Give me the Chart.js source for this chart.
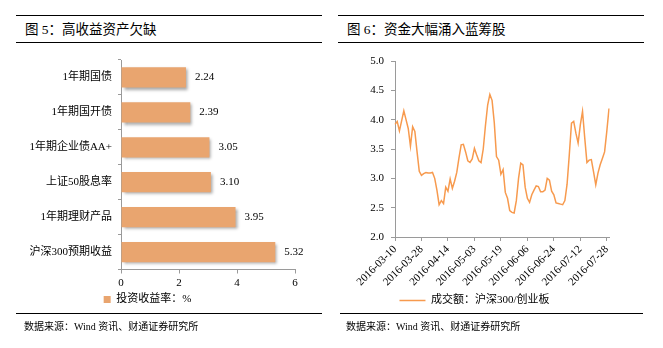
<!DOCTYPE html>
<html>
<head>
<meta charset="utf-8">
<script src="https://cdn.jsdelivr.net/npm/chart.js@4.4.0/dist/chart.umd.min.js"></script>
<style>
    body { margin: 0; background: #fff; width: 663px; height: 348px; position: relative; overflow: hidden;
           font-family: "Liberation Serif", "Noto Sans CJK SC", serif; color: #000; }
    .rule { position: absolute; height: 0; border-top: 1.5px solid #000; }
    .title { position: absolute; top: 21px; font-size: 13.5px; line-height: 18px; white-space: nowrap; }
    .src { position: absolute; top: 320px; font-size: 10px; line-height: 14px; white-space: nowrap; }
    .box { position: absolute; }
</style>
</head>
<body>
<!-- 左侧：图5 -->
<div class="rule" style="left:16px;width:306px;top:15px"></div>
<div class="title" style="left:25px">图 5：高收益资产欠缺</div>
<div class="rule" style="left:16px;width:306px;top:42px"></div>
<div class="box" style="left:0;top:45px;width:331px;height:270px"><canvas id="bar-chart"></canvas></div>
<div class="rule" style="left:16px;width:306px;top:313px"></div>
<div class="src" style="left:24px">数据来源：Wind 资讯、财通证券研究所</div>

<!-- 右侧：图6 -->
<div class="rule" style="left:338px;width:306px;top:15px"></div>
<div class="title" style="left:347px">图 6：资金大幅涌入蓝筹股</div>
<div class="rule" style="left:338px;width:306px;top:42px"></div>
<div class="box" style="left:340px;top:45px;width:303px;height:271px"><canvas id="line-chart"></canvas></div>
<div class="rule" style="left:340px;width:303px;top:313px"></div>
<div class="src" style="left:346px">数据来源：Wind 资讯、财通证券研究所</div>

<script>
// 图5 数据
const assetNames = ['1年期国债', '1年期国开债', '1年期企业债AA+', '上证50股息率', '1年期理财产品', '沪深300预期收益'];
const assetYields = [2.24, 2.39, 3.05, 3.10, 3.95, 5.32];
const yieldTicks = [0, 2, 4, 6];

// 图6 数据（交易日）
const tradeDates = [
    '2016-03-10', '2016-03-11', '2016-03-14', '2016-03-15', '2016-03-16', '2016-03-17', '2016-03-18',
    '2016-03-21', '2016-03-22', '2016-03-23', '2016-03-24', '2016-03-25', '2016-03-28', '2016-03-29',
    '2016-03-30', '2016-03-31', '2016-04-01', '2016-04-05', '2016-04-06', '2016-04-07', '2016-04-08',
    '2016-04-11', '2016-04-12', '2016-04-13', '2016-04-14', '2016-04-15', '2016-04-18', '2016-04-19',
    '2016-04-20', '2016-04-21', '2016-04-22', '2016-04-25', '2016-04-26', '2016-04-27', '2016-04-28',
    '2016-04-29', '2016-05-03', '2016-05-04', '2016-05-05', '2016-05-06', '2016-05-09', '2016-05-10',
    '2016-05-11', '2016-05-12', '2016-05-13', '2016-05-16', '2016-05-17', '2016-05-18', '2016-05-19',
    '2016-05-20', '2016-05-23', '2016-05-24', '2016-05-25', '2016-05-26', '2016-05-27', '2016-05-30',
    '2016-05-31', '2016-06-01', '2016-06-02', '2016-06-03', '2016-06-06', '2016-06-07', '2016-06-08',
    '2016-06-13', '2016-06-14', '2016-06-15', '2016-06-16', '2016-06-17', '2016-06-20', '2016-06-21',
    '2016-06-22', '2016-06-23', '2016-06-24', '2016-06-27', '2016-06-28', '2016-06-29', '2016-06-30',
    '2016-07-01', '2016-07-04', '2016-07-05', '2016-07-06', '2016-07-07', '2016-07-08', '2016-07-11',
    '2016-07-12', '2016-07-13', '2016-07-14', '2016-07-15', '2016-07-18', '2016-07-19', '2016-07-20',
    '2016-07-21', '2016-07-22', '2016-07-25', '2016-07-26', '2016-07-27', '2016-07-28', '2016-07-29'
];
const turnoverRatio = [
    3.92, 3.97, 3.81, 3.98, 4.15, 4.00, 3.85, 3.55, 3.88, 3.80,
    3.45, 3.12, 3.05, 3.08, 3.10, 3.09, 3.09, 3.10, 3.00, 2.80,
    2.55, 2.62, 2.57, 2.85, 2.78, 2.99, 2.83, 2.95, 3.10, 3.35,
    3.57, 3.58, 3.45, 3.30, 3.27, 3.33, 3.51, 3.40, 3.30, 3.27,
    3.50, 3.90, 4.25, 4.43, 4.33, 3.95, 3.37, 3.31, 3.07, 3.15,
    2.76, 2.66, 2.45, 2.42, 2.41, 2.62, 3.00, 3.26, 3.23, 2.85,
    2.66, 2.59, 2.72, 2.80, 2.87, 2.86, 2.77, 2.77, 2.80, 3.00,
    2.97, 2.78, 2.72, 2.58, 2.57, 2.56, 2.55, 2.62, 2.90, 3.40,
    3.94, 3.97, 3.77, 3.60, 3.91, 4.14, 3.69, 3.27, 3.31, 3.32,
    3.11, 2.89, 3.09, 3.23, 3.34, 3.45, 3.80, 4.19
];
const labelEvery = 12;

const tickFont = { family: '"Liberation Serif", "Noto Sans CJK SC", serif', size: 11 };
const axisGray = '#9a9a9a';

// 柱子阴影
const barShadow = {
    id: 'barShadow',
    beforeDatasetsDraw(chart) {
        const ctx = chart.ctx;
        ctx.save();
        ctx.shadowColor = 'rgba(0, 0, 0, 0.35)';
        ctx.shadowOffsetX = 2;
        ctx.shadowOffsetY = 2;
        ctx.shadowBlur = 3;
    },
    afterDatasetsDraw(chart) {
        chart.ctx.restore();
    }
};

// 柱子数值标签
const barValues = {
    id: 'barValues',
    afterDatasetsDraw(chart) {
        const ctx = chart.ctx;
        const meta = chart.getDatasetMeta(0);
        ctx.save();
        ctx.font = '11px "Liberation Serif", serif';
        ctx.fillStyle = '#000';
        ctx.textAlign = 'left';
        ctx.textBaseline = 'middle';
        meta.data.forEach((bar, i) => {
            ctx.fillText(assetYields[i].toFixed(2), bar.x + 9, bar.y);
        });
        ctx.restore();
    }
};

new Chart(document.getElementById('bar-chart'), {
    type: 'bar',
    data: {
        labels: assetNames,
        datasets: [{
            label: '投资收益率：%',
            data: assetYields,
            backgroundColor: '#E9A56F',
            borderWidth: 0,
            barPercentage: 0.58,
            categoryPercentage: 1.0
        }]
    },
    options: {
        indexAxis: 'y',
        responsive: true,
        maintainAspectRatio: false,
        animation: false,
        layout: { padding: { top: 15, right: 36, left: 0, bottom: 0 } },
        plugins: {
            legend: {
                position: 'bottom',
                labels: { boxWidth: 7, boxHeight: 7, padding: 6, color: '#000', font: tickFont }
            },
            tooltip: { enabled: false }
        },
        scales: {
            x: {
                min: yieldTicks[0],
                max: yieldTicks[yieldTicks.length - 1],
                afterBuildTicks: s => { s.ticks = yieldTicks.map(v => ({ value: v })); },
                afterFit: s => { s.height = 18.5; },
                grid: { drawOnChartArea: false, tickLength: 4, color: axisGray },
                border: { color: axisGray },
                ticks: { padding: 3, color: '#000', font: tickFont }
            },
            y: {
                afterFit: s => { s.width = 121; },
                grid: { drawOnChartArea: false, tickLength: 3, color: axisGray, offset: true },
                border: { color: axisGray },
                ticks: { padding: 6, color: '#000', font: tickFont }
            }
        }
    },
    plugins: [barShadow, barValues]
});

new Chart(document.getElementById('line-chart'), {
    type: 'line',
    data: {
        labels: tradeDates,
        datasets: [{
            label: '成交额：沪深300/创业板',
            data: turnoverRatio,
            borderColor: '#F79A4E',
            backgroundColor: '#F79A4E',
            borderWidth: 1.5,
            pointRadius: 0,
            tension: 0,
            fill: false
        }]
    },
    options: {
        responsive: true,
        maintainAspectRatio: false,
        animation: false,
        layout: { padding: { top: 16, right: 34, left: 0, bottom: 0 } },
        plugins: {
            legend: {
                position: 'bottom',
                labels: {
                    usePointStyle: true, pointStyle: 'line', pointStyleWidth: 26,
                    padding: 6, color: '#000', font: tickFont
                }
            },
            tooltip: { enabled: false }
        },
        scales: {
            x: {
                afterFit: s => { s.height = 52; },
                grid: { drawOnChartArea: false, tickLength: 4, color: axisGray },
                border: { color: axisGray },
                ticks: {
                    autoSkip: false, minRotation: 45, maxRotation: 45, padding: 2,
                    color: '#000', font: tickFont,
                    callback: (v, i) => (i % labelEvery === 0 ? tradeDates[i] : null)
                }
            },
            y: {
                min: 2, max: 5,
                afterFit: s => { s.width = 55; },
                grid: { drawOnChartArea: false, tickLength: 4, color: axisGray },
                border: { color: axisGray },
                ticks: { stepSize: 0.5, padding: 7, color: '#000', font: tickFont, callback: v => v.toFixed(1) }
            }
        }
    }
});
</script>
</body>
</html>
